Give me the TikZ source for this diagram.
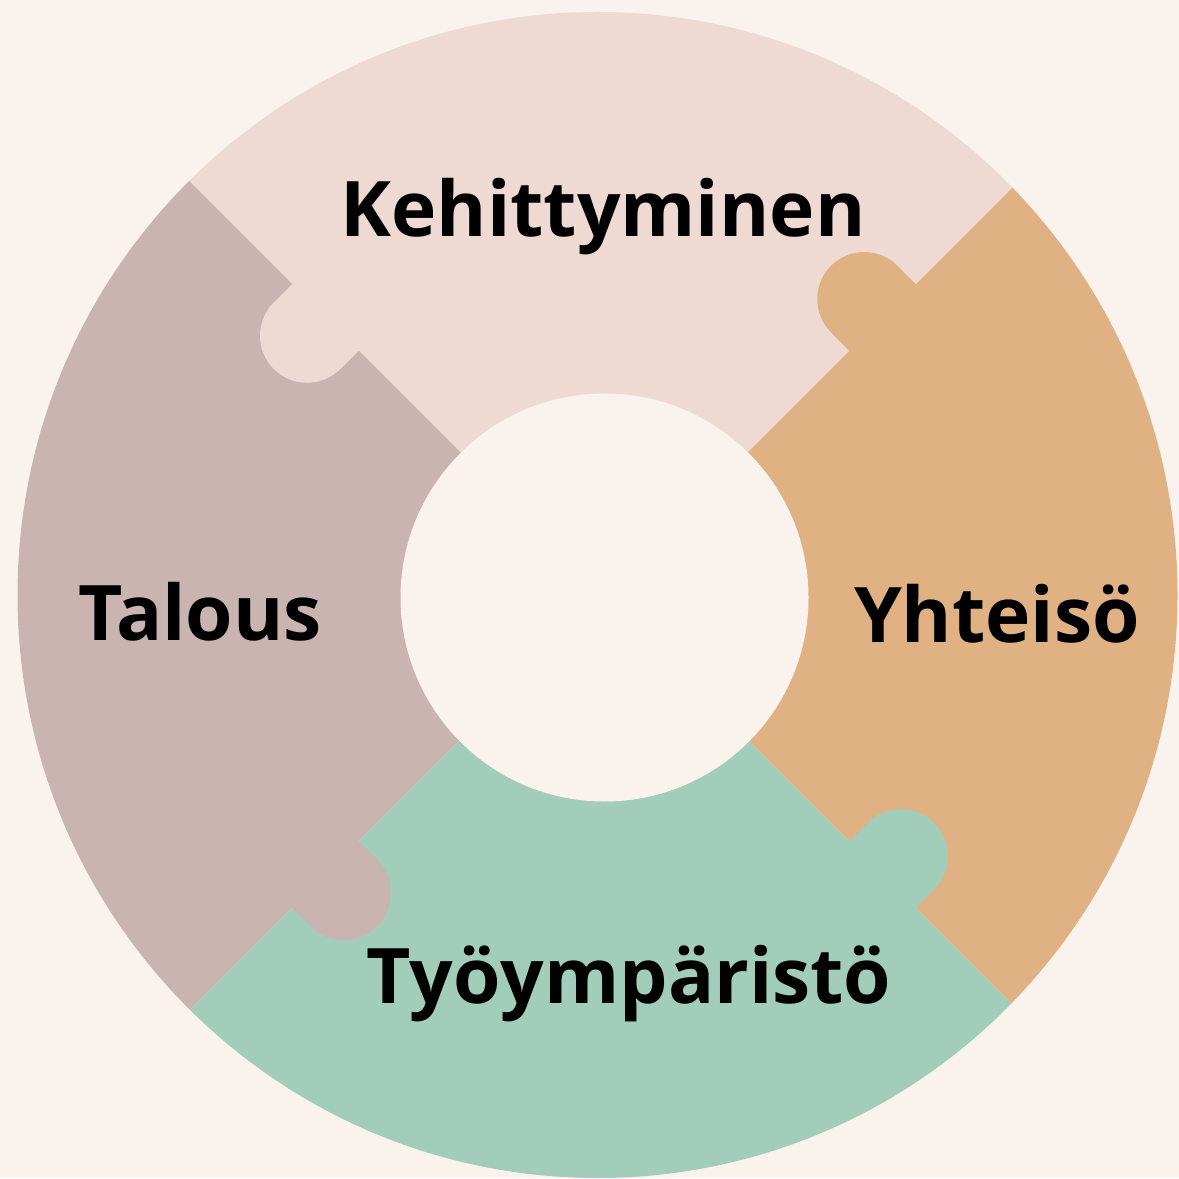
\documentclass[tikz,border=0pt]{standalone}
\usepackage{fontspec}
\setmainfont{Open Sans}
\definecolor{bgc}{RGB}{249,242,237}
\definecolor{pinkc}{RGB}{239,217,211}
\definecolor{mauvec}{RGB}{201,180,178}
\definecolor{orangec}{RGB}{224,178,131}
\definecolor{greenc}{RGB}{162,205,187}
\tikzset{
  lbl/.style={anchor=base, inner sep=0pt, font=\fontsize{21.8}{26}\selectfont\bfseries, text=black},
}
\begin{document}
\begin{tikzpicture}[x=0.01cm,y=0.01cm]
\useasboundingbox (0,0) rectangle (1179,1178);
\fill[bgc] (0,0) rectangle (1179,1178);
% segments
\begin{scope}
  \clip (597.5,583) ellipse [x radius=580, y radius=583];
  \begin{scope}[shift={(604,582)}]
    \fill[pinkc]   (0,0) -- (45:1000)  -- (90:1500)  -- (135:1000) -- cycle;
    \fill[mauvec]  (0,0) -- (135:1000) -- (180:1500) -- (225:1000) -- cycle;
    \fill[greenc]  (0,0) -- (225:1000) -- (270:1500) -- (315:1000) -- cycle;
    \fill[orangec] (0,0) -- (315:1000) -- (0:1500)   -- (45:1000)  -- cycle;
  \end{scope}
\end{scope}
% puzzle tabs
\begin{scope}[shift={(604,582)}, rotate=135]
  \fill[pinkc] (347,-3) rectangle (441,26); \fill[pinkc] (394,26) circle (47);
\end{scope}
\begin{scope}[shift={(604,582)}, rotate=45]
  \fill[orangec] (347,-3) rectangle (441,26); \fill[orangec] (394,26) circle (47);
\end{scope}
\begin{scope}[shift={(604,582)}, rotate=-45]
  \fill[greenc] (347,-3) rectangle (441,26); \fill[greenc] (394,26) circle (47);
\end{scope}
\begin{scope}[shift={(604,582)}, rotate=225]
  \fill[mauvec] (347,-3) rectangle (441,26); \fill[mauvec] (394,26) circle (47);
\end{scope}
% centre hole
\fill[bgc] (604.5,580.5) circle (204);
% labels
\node[lbl] (keh) at (603,941) {Kehittyminen};
\node[lbl] (tal) at (200,538) {Talous};
\node[lbl] (yht) at (997,536) {Yhteisö};
\node[lbl] (tyo) at (629,175) {Työympäristö};
\end{tikzpicture}
\end{document}
